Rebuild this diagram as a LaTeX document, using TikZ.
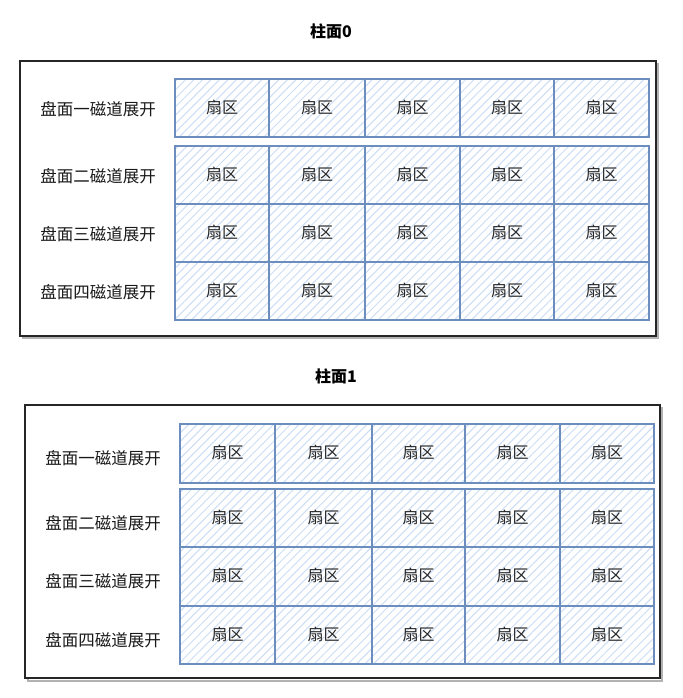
\documentclass[tikz,border=0pt]{standalone}
\usepackage{fontspec}
\setmainfont{Noto Sans CJK SC}
\usetikzlibrary{patterns.meta}
\definecolor{secfill}{HTML}{CCDDF6}
\definecolor{secdraw}{HTML}{6C8EBF}
\begin{document}
\begin{tikzpicture}[x=1pt,y=-1pt,
  outer/.style={draw=black!85,line width=1.2pt,fill=white},
  shadowbox/.style={draw=black!30,line width=1.4pt},
  sector/.style={draw=secdraw,line width=1.2pt,
    pattern={Lines[angle=45,distance=6pt,line width=1pt]},pattern color=secfill},
  seclabel/.style={font=\fontsize{16}{18}\selectfont,text=black!85},
  rowlabel/.style={font=\fontsize{16.5}{18}\selectfont,text=black!90},
  ttl/.style={font=\bfseries\fontsize{16}{18}\selectfont}]
\useasboundingbox (0,0) rectangle (682,698);
% ---------- cylinder 0 ----------
\node[ttl] (t0) at (331,31) {柱面0};
\draw[shadowbox] (23,64) rectangle (658,338);
\draw[outer] (20,61) rectangle (656,336);
\foreach \r/\ya/\yb/\lab in {1/79/137/盘面一磁道展开,2/146/204/盘面二磁道展开,3/204/262/盘面三磁道展开,4/262/320/盘面四磁道展开}{
  \node[rowlabel] (a\r) at (98,{(\ya+\yb)/2+1}) {\lab};
  \foreach \c/\xa/\xb in {1/175/269,2/269/365,3/365/460,4/460/554,5/554/649}{
    \draw[sector] (\xa,\ya) rectangle (\xb,\yb);
    \node[seclabel] (s0-\r-\c) at ({(\xa+\xb)/2},{(\ya+\yb)/2-1}) {扇区};
  }
}
% ---------- cylinder 1 ----------
\node[ttl] (t1) at (336,376) {柱面1};
\draw[shadowbox] (28,408) rectangle (662,681);
\draw[outer] (25,405) rectangle (660,678);
\foreach \r/\ya/\yb/\lab in {1/424/483/盘面一磁道展开,2/489/547/盘面二磁道展开,3/547/606/盘面三磁道展开,4/606/664/盘面四磁道展开}{
  \node[rowlabel] (b\r) at (103,{(\ya+\yb)/2+5}) {\lab};
  \foreach \c/\xa/\xb in {1/180/275,2/275/372,3/372/465,4/465/560,5/560/654}{
    \draw[sector] (\xa,\ya) rectangle (\xb,\yb);
    \node[seclabel] (s1-\r-c\c) at ({(\xa+\xb)/2},{(\ya+\yb)/2-1}) {扇区};
  }
}
\end{tikzpicture}
\end{document}
